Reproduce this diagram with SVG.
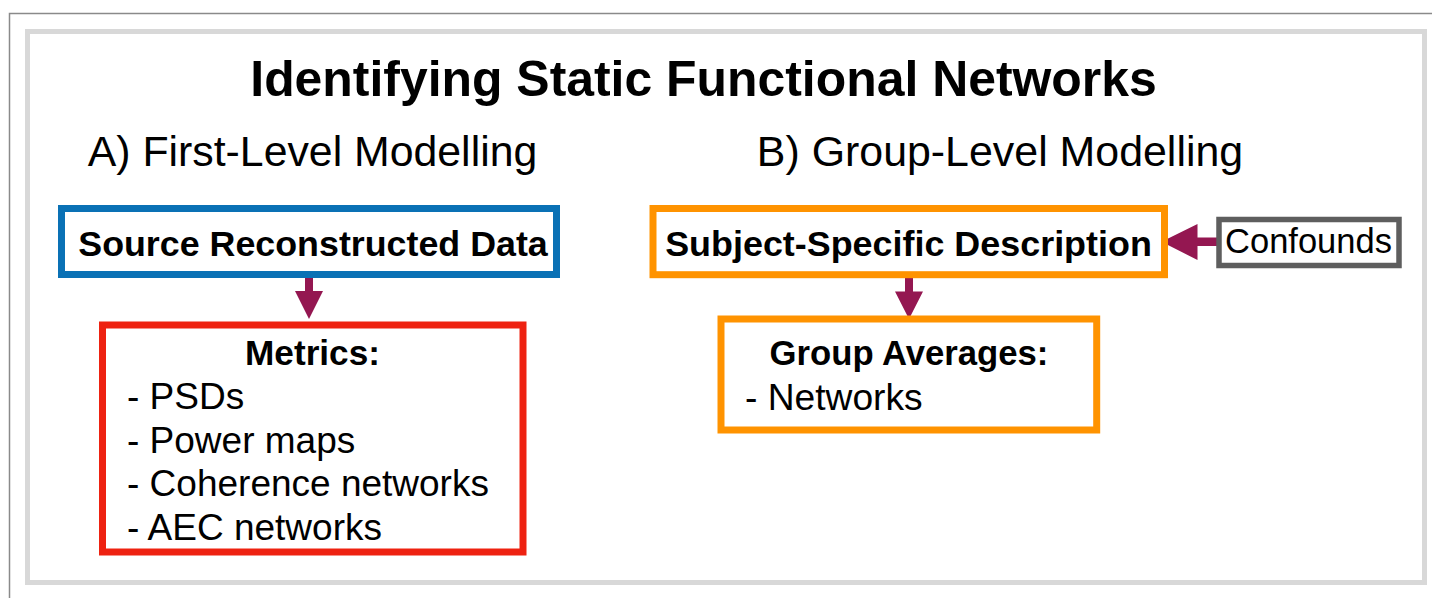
<svg xmlns="http://www.w3.org/2000/svg" width="1432" height="598" viewBox="0 0 1432 598">
<style>
.b{font-family:"Liberation Sans",Arial,Helvetica,sans-serif;font-weight:bold;fill:#000}
.r{font-family:"Liberation Sans",Arial,Helvetica,sans-serif;fill:#000}
.box{fill:#fff}
.arr{fill:#941751}
</style>
<rect x="9.5" y="13.5" width="1440" height="600" fill="#fff" stroke="#8a8a8a" stroke-width="1.5"/>
<rect x="27.5" y="31.5" width="1397" height="551" fill="#fff" stroke="#d8d8d8" stroke-width="5"/>
<text class="b" x="703.5" y="96" font-size="49.9" text-anchor="middle">Identifying Static Functional Networks</text>
<text class="r" x="312.5" y="166" font-size="42.8" text-anchor="middle">A) First-Level Modelling</text>
<text class="r" x="1000" y="166" font-size="42.9" text-anchor="middle">B) Group-Level Modelling</text>
<g id="connectors">
<path class="arr" d="M305,277 H313 V291 H323 L309,319 L295,291 H305 Z"/>
<path class="arr" d="M905,278 H913 V291.5 H923 L909,319 L895,291.5 H905 Z"/>
<path class="arr" d="M1217,237.5 V246 H1197.5 V260 L1161.5,241.8 L1197.5,224 V237.5 Z"/>
</g>
<g id="source">
<rect class="box" x="61.5" y="208.5" width="495" height="66" stroke="#0a71b5" stroke-width="7"/>
<text class="b" x="313" y="256" font-size="35.8" text-anchor="middle">Source Reconstructed Data</text>
</g>
<g id="metrics">
<rect class="box" x="102.5" y="325" width="420.5" height="227" stroke="#ee2211" stroke-width="7"/>
<text class="b" x="312.5" y="365" font-size="35.2" text-anchor="middle">Metrics:</text>
<text class="r" x="127" y="409" font-size="37">- PSDs</text>
<text class="r" x="127" y="452.7" font-size="37">- Power maps</text>
<text class="r" x="127" y="496" font-size="37">- Coherence networks</text>
<text class="r" x="127" y="540" font-size="37">- AEC networks</text>
</g>
<g id="subject">
<rect class="box" x="653" y="208.5" width="511.5" height="66.2" stroke="#ff9300" stroke-width="7"/>
<text class="b" x="908.5" y="256" font-size="35.9" text-anchor="middle">Subject-Specific Description</text>
</g>
<g id="confounds">
<rect class="box" x="1219" y="219.5" width="180" height="46" stroke="#5e5e5e" stroke-width="5.5"/>
<text class="r" x="1308.5" y="253.3" font-size="34.5" text-anchor="middle">Confounds</text>
</g>
<g id="group">
<rect class="box" x="721" y="319" width="375.7" height="111" stroke="#ff9300" stroke-width="7"/>
<text class="b" x="909" y="365" font-size="34.7" text-anchor="middle">Group Averages:</text>
<text class="r" x="745" y="410" font-size="37.2">- Networks</text>
</g>
</svg>
